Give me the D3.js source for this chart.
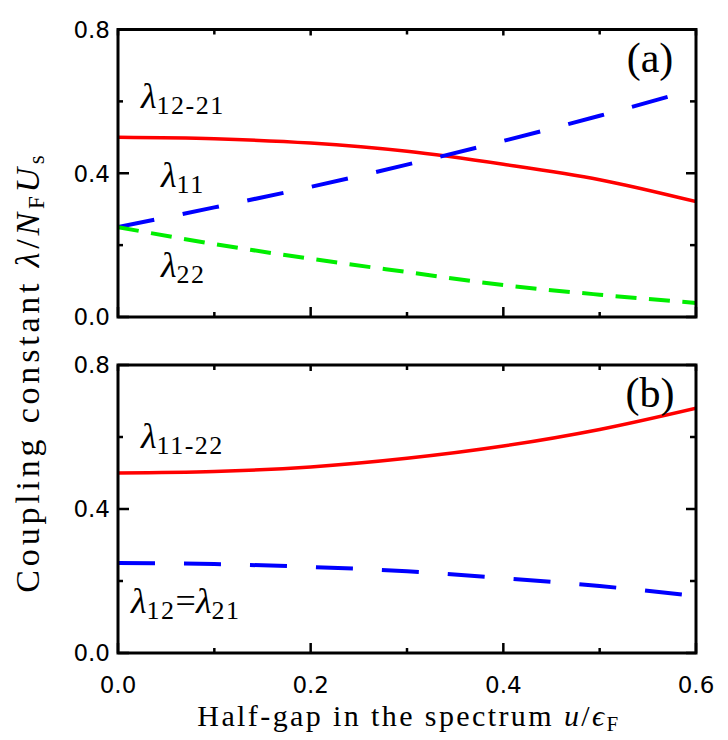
<!DOCTYPE html>
<html><head><meta charset="utf-8">
<script src="https://cdn.jsdelivr.net/npm/d3@7"></script>
<style>body{margin:0;background:#fff}svg{display:block}</style>
</head><body>
<svg id="c" width="728" height="740"></svg>
<script>
// ---- data ----
const xs = [0, 0.1, 0.2, 0.3, 0.4, 0.5, 0.6];
// panel (a)
const a_l1221 = [0.5, 0.496, 0.484, 0.461, 0.425, 0.382, 0.321];
const a_l11   = [0.25, 0.305, 0.362, 0.424, 0.490, 0.560, 0.635];
const a_l22   = [0.25, 0.203, 0.162, 0.125, 0.089, 0.062, 0.039];
// panel (b)
const b_l1122 = [0.5, 0.504, 0.517, 0.541, 0.575, 0.621, 0.680];
const b_l12   = [0.25, 0.247, 0.239, 0.227, 0.208, 0.186, 0.158];
const xTicks = [0, 0.2, 0.4, 0.6];
const xMinor = [0.1, 0.3, 0.5];
const yTicks = [0, 0.4, 0.8];
const yMinor = [0.2, 0.6];

const svg = d3.select("#c");
const X0 = 118, X1 = 696;
const x = d3.scaleLinear().domain([0, 0.6]).range([X0, X1]);
const serif = "'Liberation Serif', 'Times New Roman', serif";
const sans = "'DejaVu Sans', sans-serif";

function panel(top, bottom, series, tag, labels) {
  const y = d3.scaleLinear().domain([0, 0.8]).range([bottom, top]);
  const g = svg.append("g");
  const line = d3.line().x((d, i) => x(xs[i])).y(d => y(d)).curve(d3.curveMonotoneX);
  const clip = "clip" + tag;
  g.append("clipPath").attr("id", clip).append("rect")
    .attr("x", X0).attr("y", top).attr("width", X1 - X0).attr("height", bottom - top);
  series.forEach(s => {
    g.append("path").datum(s.v).attr("d", line)
      .attr("fill", "none").attr("stroke", s.c).attr("stroke-width", s.w)
      .attr("stroke-dasharray", s.dash || null)
      .attr("clip-path", `url(#${clip})`);
  });
  // ticks inward
  const tk = (x1, y1, x2, y2) => g.append("line").attr("x1", x1).attr("y1", y1).attr("x2", x2).attr("y2", y2)
    .attr("stroke", "#000").attr("stroke-width", 2.5);
  xTicks.forEach(t => { tk(x(t), bottom, x(t), bottom - 10); tk(x(t), top, x(t), top + 6); });
  xMinor.forEach(t => { tk(x(t), bottom, x(t), bottom - 5); tk(x(t), top, x(t), top + 5); });
  yTicks.forEach(t => { tk(X0, y(t), X0 + 11, y(t)); tk(X1, y(t), X1 - 10, y(t)); });
  yMinor.forEach(t => { tk(X0, y(t), X0 + 5, y(t)); tk(X1, y(t), X1 - 6, y(t)); });
  g.append("rect").attr("x", X0).attr("y", top).attr("width", X1 - X0).attr("height", bottom - top)
    .attr("fill", "none").attr("stroke", "#000").attr("stroke-width", 3);
  yTicks.forEach(t => {
    g.append("text").attr("x", X0 - 8).attr("y", y(t)).attr("dy", "0.36em")
      .attr("text-anchor", "end").attr("font-family", sans).attr("font-size", 23).text(t.toFixed(1));
  });
  g.append("text").attr("x", 650).attr("y", top + 42).attr("text-anchor", "middle")
    .attr("font-family", serif).attr("font-size", 42).text(`(${tag})`);
  labels.forEach(l => {
    const t = g.append("text").attr("x", l.x).attr("y", l.y).attr("font-family", serif).attr("font-size", 36);
    l.parts.forEach(p => {
      const ts = t.append("tspan").text(p.t);
      if (p.sub) ts.attr("font-size", 26).attr("letter-spacing", 1.5).attr("dy", p.dy);
      else if (p.dy) ts.attr("dy", p.dy);
      if (p.i) ts.attr("font-style", "italic");
    });
  });
  return y;
}

panel(29.5, 317, [
  {v: a_l1221, c: "#ff0000", w: 3.5},
  {v: a_l11, c: "#0000ff", w: 4, dash: "37,29"},
  {v: a_l22, c: "#00ee00", w: 4, dash: "21,12.5"}
], "a", [
  {x: 141, y: 108, parts: [{t: "λ", i: true}, {t: "12-21", sub: true, dy: 6}]},
  {x: 161, y: 187, parts: [{t: "λ", i: true}, {t: "11", sub: true, dy: 6}]},
  {x: 161, y: 277, parts: [{t: "λ", i: true}, {t: "22", sub: true, dy: 6}]}
]);
panel(365, 653, [
  {v: b_l1122, c: "#ff0000", w: 3.5},
  {v: b_l12, c: "#0000ff", w: 4, dash: "37,29"}
], "b", [
  {x: 141, y: 448, parts: [{t: "λ", i: true}, {t: "11-22", sub: true, dy: 6}]},
  {x: 131, y: 613, parts: [{t: "λ", i: true}, {t: "12", sub: true, dy: 6}, {t: "=", dy: -6}, {t: "λ", i: true}, {t: "21", sub: true, dy: 6}]}
]);

// x tick labels
xTicks.forEach(t => {
  svg.append("text").attr("x", x(t)).attr("y", 693).attr("text-anchor", "middle")
    .attr("font-family", sans).attr("font-size", 23).text(t.toFixed(1));
});
// x axis label
const xl = svg.append("text").attr("x", 409).attr("y", 726).attr("text-anchor", "middle")
  .attr("font-family", serif).attr("font-size", 30).attr("letter-spacing", 2.4);
xl.append("tspan").text("Half-gap in the spectrum ");
xl.append("tspan").attr("font-style", "italic").text("u");
xl.append("tspan").text("/");
xl.append("tspan").attr("font-style", "italic").text("ϵ");
xl.append("tspan").attr("font-size", 21).attr("dy", 5).text("F");
// y axis label
const yl = svg.append("text").attr("transform", "translate(39,372) rotate(-90)").attr("text-anchor", "middle")
  .attr("font-family", serif).attr("font-size", 34).attr("letter-spacing", 3.8);
yl.append("tspan").text("Coupling constant ");
yl.append("tspan").attr("font-style", "italic").text("λ");
yl.append("tspan").text("/");
yl.append("tspan").attr("font-style", "italic").text("N");
yl.append("tspan").attr("font-size", 23).attr("dy", 5).text("F");
yl.append("tspan").attr("font-style", "italic").attr("dy", -5).text("U");
yl.append("tspan").attr("font-size", 23).attr("dy", 5).text("s");
</script>
</body></html>
